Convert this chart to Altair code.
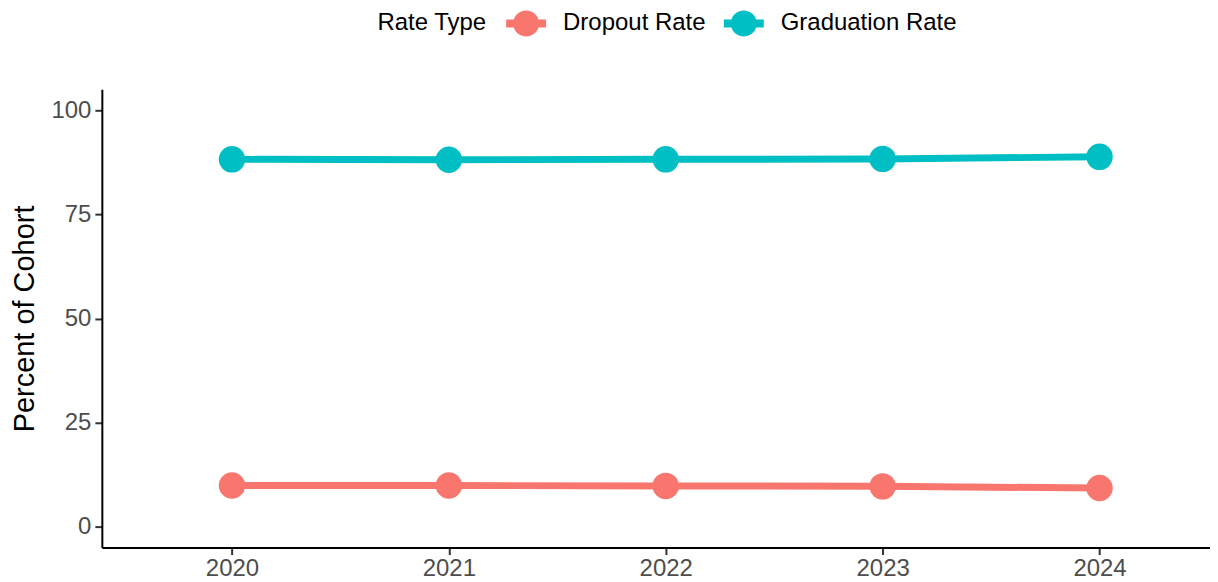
import altair as alt
import pandas as pd

# ---- data ----
years = [2020, 2021, 2022, 2023, 2024]
graduation_rate = [88.2, 88.1, 88.2, 88.3, 88.8]
dropout_rate = [9.9, 9.9, 9.8, 9.7, 9.3]
series_names = ["Dropout Rate", "Graduation Rate"]
series_colors = ["#F8766D", "#00BFC4"]
y_ticks = [0, 25, 50, 75, 100]

rows = []
for yr, d, g in zip(years, dropout_rate, graduation_rate):
    rows.append({"year": yr, "rate": d, "type": series_names[0]})
    rows.append({"year": yr, "rate": g, "type": series_names[1]})
df = pd.DataFrame(rows)

FONT = "Liberation Sans"
W = 1110
H = 459
STEP = 217.25  # pixels per year

x_scale = alt.Scale(domain=[2019.4, 2019.4 + W / STEP], nice=False, zero=False)
y_scale = alt.Scale(domain=[-5, 105], nice=False, zero=False)
color_scale = alt.Scale(domain=series_names, range=series_colors)

legend_symbol = ("M-1,-0.2L-0.618,-0.2A0.65,0.65,0,0,1,0.618,-0.2L1,-0.2L1,0.2"
                 "L0.618,0.2A0.65,0.65,0,0,1,-0.618,0.2L-1,0.2Z")

base = alt.Chart(df).encode(
    x=alt.X("year:Q", scale=x_scale,
            axis=alt.Axis(values=years, format="d", title=None, labelPadding=2)),
    y=alt.Y("rate:Q", scale=y_scale,
            axis=alt.Axis(values=y_ticks, title="Percent of Cohort", labelPadding=4,
                          titleX=-77, titleY=H / 2, titleAngle=270,
                          titleBaseline="middle", titleAlign="center",
                          titleFontSize=29, titleFontWeight="normal",
                          titleColor="#000000", titleFont=FONT)),
    color=alt.Color("type:N", scale=color_scale,
                    legend=alt.Legend(title="Rate Type", orient="none",
                                      legendX=276, legendY=-86,
                                      direction="horizontal", titleOrient="left",
                                      titleFontSize=24, titleFontWeight="normal",
                                      titleColor="#000000", titleFont=FONT,
                                      titlePadding=19, titleBaseline="line-top",
                                      titleLineHeight=8.5,
                                      labelFontSize=24, labelColor="#000000",
                                      labelFont=FONT, labelOffset=17, labelLimit=1000,
                                      columnPadding=18, symbolSize=1600,
                                      symbolType=legend_symbol,
                                      symbolStrokeWidth=0, symbolOpacity=1)),
)

lines = base.mark_line(strokeWidth=7)
points = base.mark_circle(size=700, opacity=1)

chart = (lines + points).properties(
    width=W, height=H,
    background="#FFFFFF",
    autosize=alt.AutoSizeParams(type="none"),
    padding={"left": 94, "top": 81, "right": 0, "bottom": 32},
).configure_view(stroke=None).configure_axis(
    grid=False, domainColor="#000000", domainWidth=2,
    tickColor="#333333", tickSize=7, tickWidth=2,
    labelColor="#4D4D4D", labelFontSize=24, labelFont=FONT,
)

chart.save("out.html", embed_options={"renderer": "svg", "actions": False})
